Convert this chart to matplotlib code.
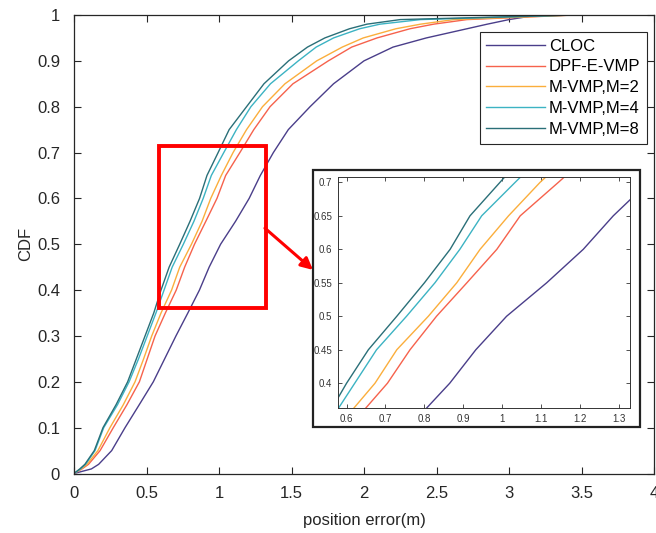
import matplotlib
matplotlib.use("Agg")
import matplotlib.pyplot as plt
from matplotlib.patches import Rectangle

plt.rcParams['font.family'] = ['Liberation Sans', 'DejaVu Sans']

# CDF levels and the position error (m) at each level
levels = [0, 0.01, 0.02, 0.05, 0.1, 0.15, 0.2, 0.25, 0.3, 0.35, 0.4, 0.45, 0.5,
          0.55, 0.6, 0.65, 0.7, 0.75, 0.8, 0.85, 0.9, 0.93, 0.95, 0.97, 0.98, 0.99, 1.0]

cloc_levels = levels + [1.0]
cloc = [0.0, 0.12, 0.17, 0.26, 0.352, 0.45, 0.547, 0.625, 0.703, 0.785, 0.865, 0.932, 1.011,
        1.114, 1.208, 1.285, 1.375, 1.478, 1.628, 1.79, 2.0, 2.2, 2.43, 2.71, 2.85, 3.0, 3.2, 4.0]
dpf = [0.0, 0.055, 0.10, 0.18, 0.271, 0.365, 0.451, 0.505, 0.559, 0.63, 0.705, 0.763, 0.831,
       0.909, 0.986, 1.046, 1.144, 1.24, 1.352, 1.51, 1.754, 1.915, 2.09, 2.317, 2.48, 2.71, 3.45]
mvmp2 = [0.0, 0.05, 0.09, 0.165, 0.248, 0.34, 0.421, 0.48, 0.536, 0.60, 0.673, 0.729, 0.810,
         0.883, 0.943, 1.016, 1.097, 1.19, 1.30, 1.455, 1.674, 1.85, 1.995, 2.22, 2.39, 2.62, 3.45]
mvmp4 = [0.0, 0.045, 0.08, 0.145, 0.205, 0.30, 0.38, 0.445, 0.505, 0.565, 0.621, 0.677, 0.754,
         0.827, 0.891, 0.947, 1.033, 1.12, 1.22, 1.355, 1.547, 1.67, 1.79, 1.97, 2.11, 2.39, 3.45]
mvmp8 = [0.0, 0.04, 0.075, 0.14, 0.20, 0.29, 0.37, 0.43, 0.49, 0.55, 0.60, 0.656, 0.729,
         0.80, 0.866, 0.917, 0.994, 1.07, 1.19, 1.31, 1.48, 1.61, 1.73, 1.90, 2.02, 2.25, 3.45]

labels = ['CLOC', 'DPF-E-VMP', 'M-VMP,M=2', 'M-VMP,M=4', 'M-VMP,M=8']
colors = ['#4a3e8a', '#f6624c', '#fbae3c', '#3cb3c3', '#2a6f78']

xticks = [0, 0.5, 1, 1.5, 2, 2.5, 3, 3.5, 4]
xticklabels = ['0', '0.5', '1', '1.5', '2', '2.5', '3', '3.5', '4']
yticks = [0, 0.1, 0.2, 0.3, 0.4, 0.5, 0.6, 0.7, 0.8, 0.9, 1]
yticklabels = ['0', '0.1', '0.2', '0.3', '0.4', '0.5', '0.6', '0.7', '0.8', '0.9', '1']
inset_xticks = [0.6, 0.7, 0.8, 0.9, 1.0, 1.1, 1.2, 1.3]
inset_xticklabels = ['0.6', '0.7', '0.8', '0.9', '1', '1.1', '1.2', '1.3']
inset_yticks = [0.4, 0.45, 0.5, 0.55, 0.6, 0.65, 0.7]
inset_yticklabels = ['0.4', '0.45', '0.5', '0.55', '0.6', '0.65', '0.7']

W, H = 656, 533
fig = plt.figure(figsize=(W / 100, H / 100), dpi=100)
ax = fig.add_axes([74 / W, (H - 473.5) / H, 580 / W, 458.5 / H])

series = [(cloc, cloc_levels), (dpf, levels), (mvmp2, levels), (mvmp4, levels), (mvmp8, levels)]
for (xs, ys), lab, c in zip(series, labels, colors):
    ax.plot(xs, ys, color=c, lw=1.0, label=lab)

ax.set_xlim(0, 4)
ax.set_ylim(0, 1)
ax.set_xticks(xticks)
ax.set_xticklabels(xticklabels)
ax.set_yticks(yticks)
ax.set_yticklabels(yticklabels)
ax.tick_params(direction='in', top=True, right=True, labelsize=12, colors='#262626',
               length=5, width=0.8)
ax.tick_params(axis='x', pad=9)
ax.tick_params(axis='y', pad=10)
for s in ax.spines.values():
    s.set_color('#262626')
    s.set_linewidth(0.9)
ax.set_xlabel('position error(m)', fontsize=12, color='#262626', labelpad=9)
ax.set_ylabel('CDF', fontsize=12, color='#262626', labelpad=3)

leg = ax.legend(loc='upper right', bbox_to_anchor=(0.988, 0.963), fontsize=12,
                handlelength=3.5, handletextpad=0.25, labelspacing=0.35,
                borderpad=0.4, borderaxespad=0, frameon=True, fancybox=False)
leg.get_frame().set_edgecolor('#262626')
leg.get_frame().set_linewidth(0.8)
leg.get_frame().set_alpha(1)

# red zoom rectangle and arrow
ax.add_patch(Rectangle((0.586, 0.361), 1.322 - 0.586, 0.715 - 0.361, fill=False,
                       edgecolor='#ff0000', lw=2.8, zorder=5))
ax.annotate('', xy=(1.648, 0.444), xytext=(1.317, 0.535),
            arrowprops=dict(arrowstyle='-|>,head_length=0.7,head_width=0.35',
                            color='#ff0000', lw=2.2, shrinkA=0, shrinkB=0), zorder=6)

# outer frame of the inset
fig.patches.append(Rectangle((312.7 / W, (H - 427) / H), (640 - 312.7) / W, (427 - 170) / H,
                             transform=fig.transFigure, facecolor='white',
                             edgecolor='#222222', lw=1.6, zorder=3))

axin = fig.add_axes([338 / W, (H - 408) / H, (630 - 338) / W, (408 - 177) / H])
axin.set_zorder(4)
for (xs, ys), c in zip(series, colors):
    axin.plot(xs, ys, color=c, lw=1.0)
axin.set_xlim(0.578, 1.328)
axin.set_ylim(0.363, 0.708)
axin.set_xticks(inset_xticks)
axin.set_xticklabels(inset_xticklabels)
axin.set_yticks(inset_yticks)
axin.set_yticklabels(inset_yticklabels)
axin.tick_params(direction='in', top=True, right=True, labelsize=7, colors='#333333',
                 length=3, width=0.6, pad=4)
for s in axin.spines.values():
    s.set_color('#333333')
    s.set_linewidth(0.7)

fig.savefig('out.png', dpi=100)
